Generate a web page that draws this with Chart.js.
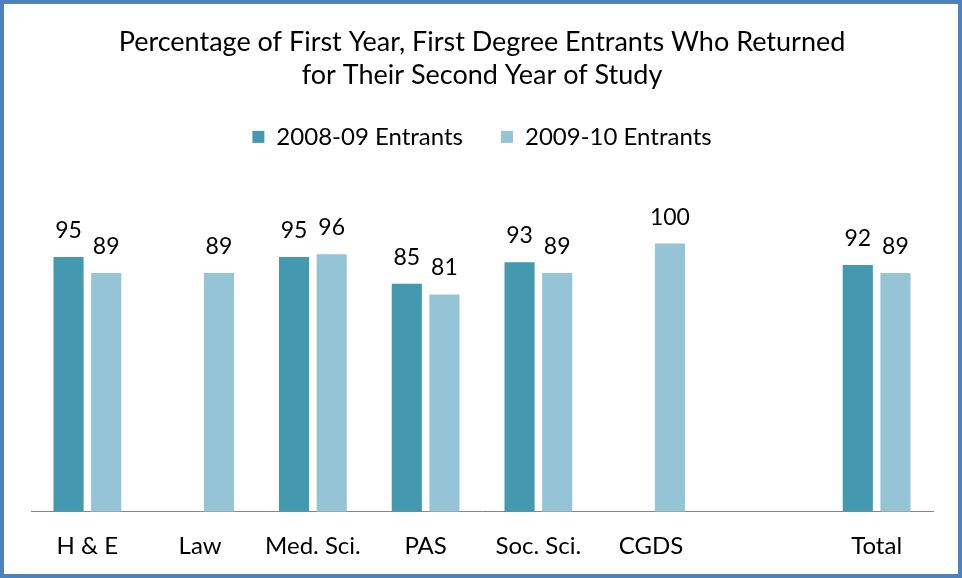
<!DOCTYPE html>
<html lang="en">
<head>
  <meta charset="UTF-8" />
  <title>First Year Return Rates</title>
  <script src="https://cdn.jsdelivr.net/npm/chart.js"></script>
  <style>
    body { margin: 0; background: #fff; }
    .frame { width: 962px; height: 578px; box-sizing: border-box; border: 4px solid #4F81BD; }
    canvas { display: block; }
  </style>
</head>
<body>
  <div class="frame">
    <canvas id="chart" width="954" height="570"></canvas>
  </div>

<script>
const categories = ['H & E', 'Law', 'Med. Sci.', 'PAS', 'Soc. Sci.', 'CGDS', '', 'Total'];
const entrants0809 = [95, null, 95, 85, 93, null, null, 92];
const entrants0910 = [89, 89, 96, 81, 89, 100, null, 89];

const FONT = 'Lato, "Open Sans", sans-serif';

// write the value above every bar
const valueLabels = {
  id: 'valueLabels',
  afterDatasetsDraw(chart) {
    const ctx = chart.ctx;
    ctx.save();
    ctx.font = '23px ' + FONT;
    ctx.fillStyle = '#000';
    ctx.textAlign = 'center';
    ctx.textBaseline = 'alphabetic';
    chart.data.datasets.forEach((ds, i) => {
      chart.getDatasetMeta(i).data.forEach((bar, j) => {
        if (ds.data[j] == null) return;
        ctx.fillText(ds.data[j], bar.x, bar.y - 19);
      });
    });
    ctx.restore();
  }
};

// extra room between legend and bars
const legendGap = {
  id: 'legendGap',
  beforeInit(chart) {
    const fit = chart.legend.fit;
    chart.legend.fit = function () {
      fit.call(this);
      this.height += 31;
    };
  }
};

new Chart(document.getElementById('chart'), {
  type: 'bar',
  data: {
    labels: categories,
    datasets: [
      { label: '2008-09 Entrants', data: entrants0809, backgroundColor: '#4498B0' },
      { label: '2009-10 Entrants', data: entrants0910, backgroundColor: '#95C4D6' }
    ]
  },
  options: {
    responsive: false,
    animation: false,
    categoryPercentage: 0.668,
    barPercentage: 0.8,
    layout: { padding: { left: 27, right: 25, top: 0, bottom: 1.5 } },
    plugins: {
      title: {
        display: true,
        text: ['Percentage of First Year, First Degree Entrants Who Returned', 'for Their Second Year of Study'],
        color: '#000',
        font: { family: FONT, size: 27, weight: 'normal', lineHeight: 1.22 },
        padding: { top: 21.5, bottom: -4.5 }
      },
      legend: {
        display: true,
        labels: {
          color: '#000',
          font: { family: FONT, size: 24 },
          boxWidth: 12,
          boxHeight: 12,
          padding: 38
        }
      },
      tooltip: { enabled: false }
    },
    scales: {
      x: {
        grid: { display: false },
        border: { display: true, color: '#868686', width: 1 },
        ticks: { color: '#000', font: { family: FONT, size: 24 }, padding: 12 }
      },
      y: { display: false, min: 0, max: 120 }
    }
  },
  plugins: [valueLabels, legendGap]
});
</script>
</body>
</html>
